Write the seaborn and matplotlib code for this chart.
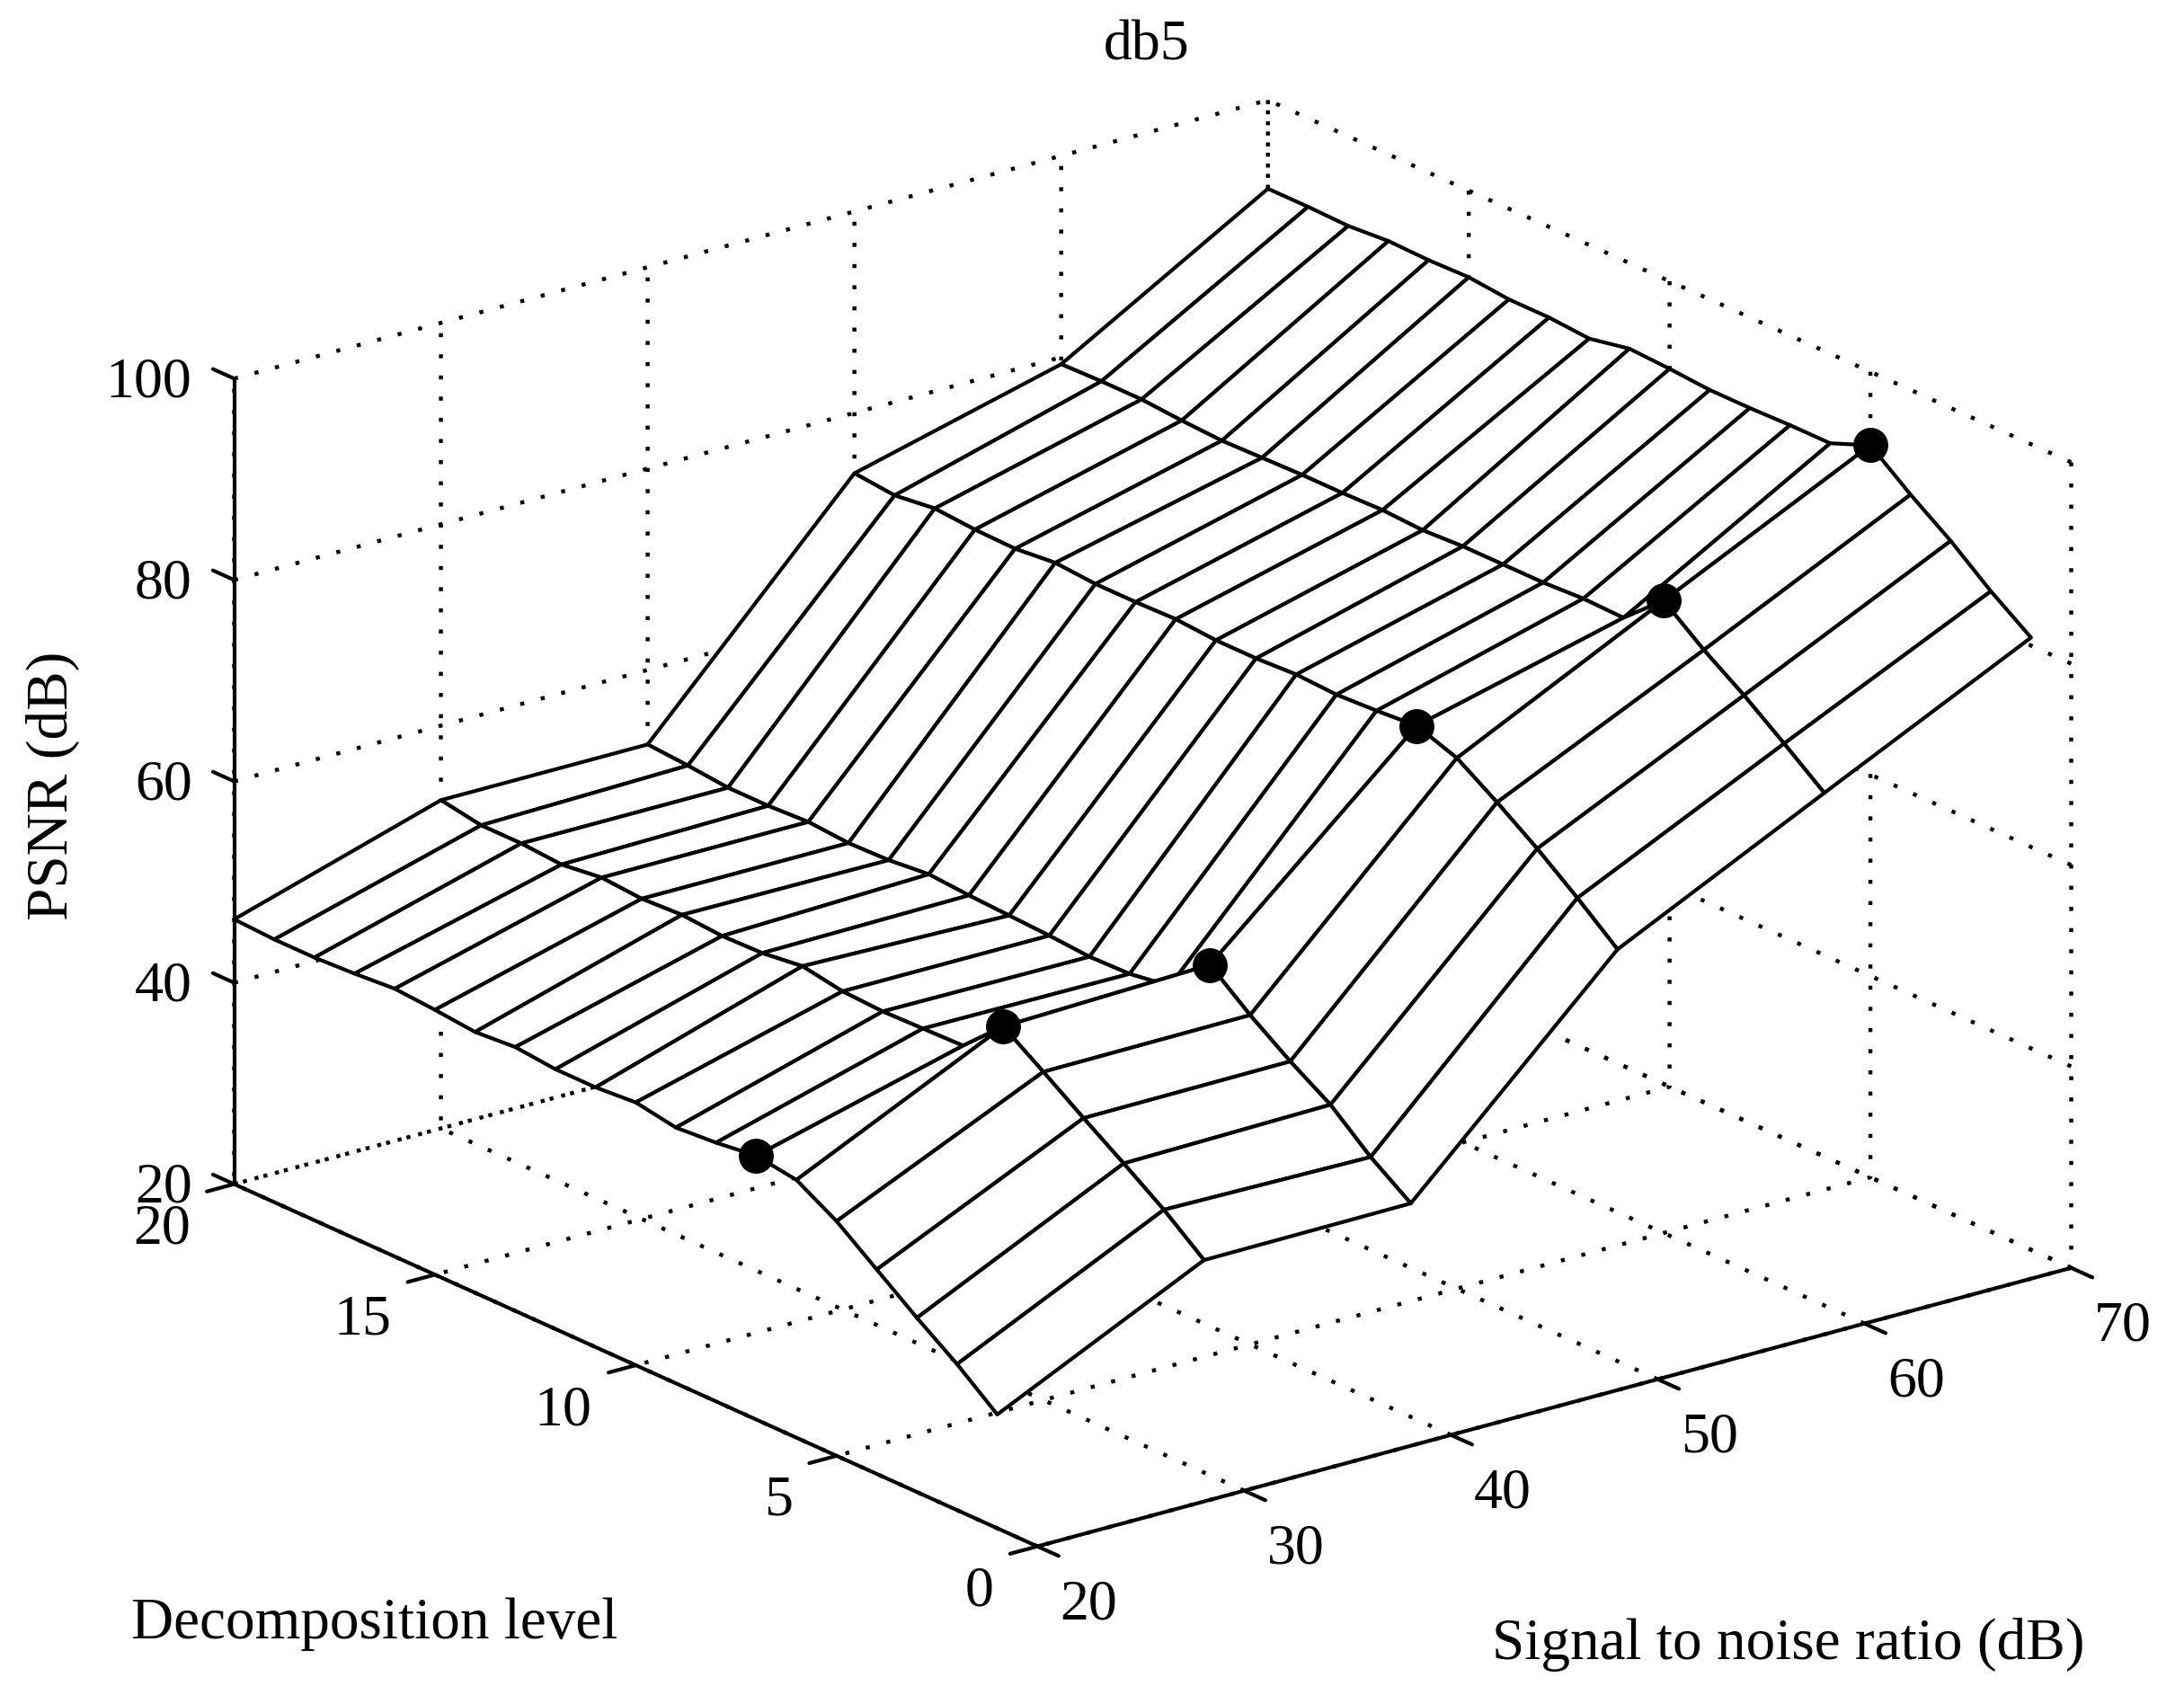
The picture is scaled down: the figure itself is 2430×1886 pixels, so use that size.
"""
Mesh of PSNR over SNR and decomposition level, wavelet db5.
"""

import numpy as np
import seaborn as sns
import matplotlib
matplotlib.use('Agg')
import matplotlib.pyplot as plt

# Values
snr = [20, 30, 40, 50, 60, 70]
levels = list(range(1, 21))

psnr_20 = [31.3, 34.5, 37.3, 40.3, 43.3, 45.6, 46.2, 45.7, 45.4, 46.1,
           45.8, 45.8, 46.2, 45.9, 46.3, 46.6, 46.3, 46.1, 46.1, 46.3]
psnr_30 = [41.1, 44.3, 47.1, 49.8, 52.6, 55.3, 51.6, 51.5, 51.4, 51.6,
           52.3, 51.8, 51.7, 52.0, 51.8, 52.1, 51.6, 51.9, 51.9, 52.6]
psnr_40 = [41.2, 44.0, 47.4, 49.9, 52.7, 55.9, 52.0, 51.4, 51.3, 51.6,
           51.8, 52.0, 52.3, 51.9, 51.8, 52.1, 51.9, 51.9, 52.3, 52.6]
psnr_50 = [60.9, 64.2, 67.3, 70.1, 72.7, 74.1, 73.8, 73.6, 73.8, 73.6,
           73.6, 73.9, 73.8, 73.8, 74.1, 73.7, 73.8, 74.1, 73.6, 74.0]
psnr_60 = [70.9, 74.0, 77.0, 79.7, 82.8, 79.3, 79.4, 79.2, 79.2, 79.2,
           79.0, 79.2, 79.1, 79.1, 79.0, 78.9, 79.1, 79.4, 79.4, 79.3]
psnr_70 = [80.8, 83.6, 86.8, 89.6, 92.7, 91.1, 91.1, 91.0, 91.0, 91.3,
           91.5, 90.7, 91.0, 91.0, 91.4, 91.3, 91.4, 91.1, 91.2, 91.2]

# Level with the best PSNR for each SNR
best_level = [7, 6, 6, 6, 5, 5]

snr_ticks = [20, 30, 40, 50, 60, 70]
level_ticks = [0, 5, 10, 15, 20]
psnr_ticks = [20, 40, 60, 80, 100]

sns.set_theme(style='white', rc={
    'grid.color': 'black',
    'grid.linewidth': 3.2,
    'grid.linestyle': (0, (1, 4.3)),
    'axes.edgecolor': 'black',
    'axes.linewidth': 3,
    'xtick.major.width': 3,
    'ytick.major.width': 3,
    'xtick.color': 'black',
    'ytick.color': 'black',
    'text.color': 'black',
    'axes.labelcolor': 'black',
})
plt.rcParams['font.family'] = ['Liberation Serif', 'DejaVu Serif']

Z = np.array([psnr_20, psnr_30, psnr_40, psnr_50, psnr_60, psnr_70]).T
X, Y = np.meshgrid(snr, levels)

fig = plt.figure(figsize=(24.3, 18.86), dpi=100)
ax = fig.add_axes([149.7 / 2430, -162.8 / 1886, 2206 / 2430, 2206 / 1886],
                  projection='3d', proj_type='ortho', computed_zorder=False)
ax.patch.set_alpha(0)
ax.view_init(elev=20.4, azim=-127.7)
ax.set_box_aspect((938, 943, 617))

ax.plot_surface(X, Y, Z, rstride=1, cstride=1, color='white', edgecolor='black',
                linewidth=3, shade=False, zorder=2)

best_psnr = [Z[lev - 1, i] for i, lev in enumerate(best_level)]
ax.plot(snr, best_level, best_psnr, 'o', color='black', ms=27, zorder=3)

ax.set_xlim(20, 70, view_margin=0)
ax.set_ylim(0, 20, view_margin=0)
ax.set_zlim(20, 100, view_margin=0)
ax.set_xticks(snr_ticks)
ax.set_yticks(level_ticks)
ax.set_zticks(psnr_ticks)
ax.tick_params(axis='both', labelsize=46, colors='black')
ax.tick_params(axis='x', pad=15.5)
ax.tick_params(axis='y', pad=27)
ax.tick_params(axis='z', pad=11)
# z ticks run along the level axis, as in MATLAB
ax.zaxis._AXINFO['z']['tickdir'] = 1
ax.grid(True)

for axis in (ax.xaxis, ax.yaxis, ax.zaxis):
    axis.set_pane_color((1, 1, 1, 0))
    axis.pane.set_edgecolor('none')
    axis.line.set_color('black')
    axis.line.set_linewidth(3)

# ticks point away from the box only
for axis in (ax.xaxis, ax.yaxis):
    axis._axinfo['tick']['inward_factor'] = 0.33
    axis._axinfo['tick']['outward_factor'] = 0
ax.zaxis._axinfo['tick']['inward_factor'] = 0
ax.zaxis._axinfo['tick']['outward_factor'] = 0.33

for lab in ax.get_xticklabels():
    lab.set_ha('left')
for lab in ax.get_yticklabels():
    lab.set_ha('right')
    lab.set_va('center')
for lab in ax.get_zticklabels():
    lab.set_ha('right')
    lab.set_va('center_baseline')

fig.text(823 / 1568, 1 - 33 / 1217, 'db5', fontsize=46, ha='center', va='center')
fig.text(38 / 1568, 1 - 564 / 1217, 'PSNR (dB)', fontsize=47, rotation=90,
         ha='center', va='center')
fig.text(269 / 1568, 1 - 1166 / 1217, 'Decomposition level', fontsize=47,
         ha='center', va='center')
fig.text(1284 / 1568, 1 - 1181 / 1217, 'Signal to noise ratio (dB)', fontsize=47,
         ha='center', va='center')

fig.savefig('out.png', dpi=100)
